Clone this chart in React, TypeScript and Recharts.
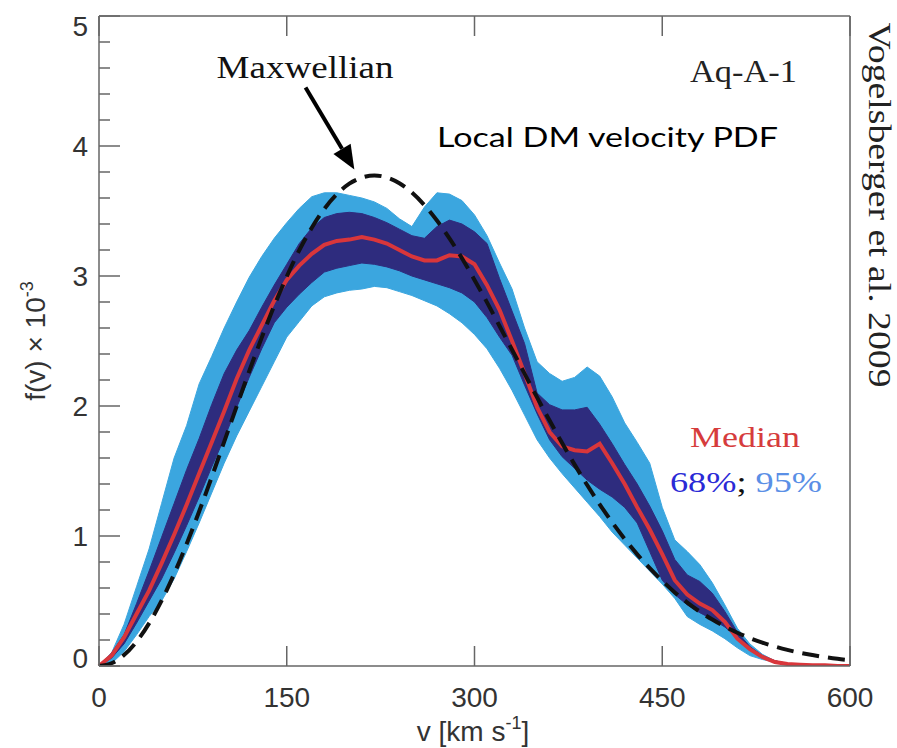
import React from "react";
import { ComposedChart, Area, Line, XAxis, YAxis, ReferenceLine } from "recharts";

// speed grid, km/s
const velocity = [
  0, 10, 20, 30, 40, 50, 60, 70, 80, 90,
  100, 110, 120, 130, 140, 150, 160, 170, 180, 190,
  200, 210, 220, 230, 240, 250, 260, 270, 280, 290,
  300, 310, 320, 330, 340, 350, 360, 370, 380, 390,
  400, 410, 420, 430, 440, 450, 460, 470, 480, 490,
  500, 510, 520, 530, 540, 550, 560, 570, 580, 590, 600,
];

// f(v) x 1e-3
const median = [
  0, 0.08, 0.22, 0.4, 0.58, 0.79, 1.01, 1.24, 1.48, 1.72,
  1.96, 2.21, 2.43, 2.62, 2.81, 2.97, 3.08, 3.17, 3.24, 3.27,
  3.28, 3.3, 3.28, 3.25, 3.2, 3.15, 3.12, 3.12, 3.16, 3.15,
  3.09, 2.93, 2.74, 2.5, 2.25, 1.99, 1.8, 1.69, 1.66, 1.65,
  1.71, 1.56, 1.4, 1.22, 1.05, 0.86, 0.66, 0.55, 0.48, 0.43,
  0.34, 0.21, 0.13, 0.07, 0.03, 0.015, 0.01, 0.005, 0.005, 0, 0,
];

const upper95 = [
  0, 0.1, 0.32, 0.61, 0.9, 1.25, 1.6, 1.85, 2.17, 2.38,
  2.6, 2.8, 2.99, 3.15, 3.29, 3.41, 3.52, 3.61, 3.64, 3.64,
  3.62, 3.6, 3.57, 3.52, 3.44, 3.38, 3.53, 3.64, 3.63, 3.58,
  3.47, 3.31, 3.1, 2.9, 2.6, 2.34, 2.25, 2.19, 2.22, 2.3,
  2.23, 2.07, 1.87, 1.72, 1.56, 1.22, 0.97, 0.88, 0.78, 0.64,
  0.47, 0.29, 0.17, 0.09, 0.04, 0.015, 0.005, 0, 0, 0, 0,
];

const lower95 = [
  0, 0.02, 0.11, 0.24, 0.38, 0.5, 0.67, 0.88, 1.1, 1.33,
  1.56, 1.77, 1.96, 2.15, 2.34, 2.53, 2.65, 2.77, 2.84, 2.87,
  2.89, 2.9, 2.92, 2.91, 2.88, 2.85, 2.81, 2.77, 2.71, 2.64,
  2.55, 2.44, 2.29, 2.12, 1.93, 1.74, 1.6, 1.48, 1.37, 1.26,
  1.15, 1.03, 0.93, 0.83, 0.73, 0.63, 0.52, 0.38, 0.32, 0.27,
  0.21, 0.14, 0.08, 0.05, 0.03, 0.01, 0.005, 0, 0, 0, 0,
];

const upper68 = [
  0, 0.1, 0.24, 0.48, 0.73, 0.99, 1.25, 1.51, 1.75, 2.01,
  2.25, 2.43, 2.58, 2.76, 2.93, 3.09, 3.25, 3.37, 3.45, 3.48,
  3.49, 3.48, 3.45, 3.41, 3.36, 3.31, 3.29, 3.38, 3.43, 3.4,
  3.34, 3.25, 2.98, 2.73, 2.48, 2.1, 2.01, 1.97, 1.97, 1.99,
  1.86, 1.71, 1.55, 1.4, 1.23, 1.04, 0.82, 0.7, 0.65, 0.56,
  0.42, 0.26, 0.15, 0.08, 0.04, 0.02, 0.01, 0, 0, 0, 0,
];

const lower68 = [
  0, 0.06, 0.17, 0.33, 0.5, 0.67, 0.87, 1.08, 1.3, 1.53,
  1.75, 1.99, 2.22, 2.44, 2.64, 2.76, 2.86, 2.95, 3.03, 3.06,
  3.08, 3.1, 3.09, 3.07, 3.04, 3.0, 2.97, 2.94, 2.91, 2.87,
  2.8, 2.68, 2.53, 2.39, 2.16, 1.94, 1.74, 1.61, 1.52, 1.43,
  1.36, 1.3, 1.22, 1.1, 0.88, 0.66, 0.55, 0.47, 0.41, 0.36,
  0.3, 0.22, 0.13, 0.07, 0.04, 0.02, 0.01, 0, 0, 0, 0,
];

const maxwellian = [
  0, 0.021, 0.084, 0.187, 0.328, 0.503, 0.708, 0.939, 1.189, 1.452,
  1.724, 1.997, 2.267, 2.526, 2.771, 2.996, 3.198, 3.371, 3.516, 3.629,
  3.71, 3.757, 3.774, 3.758, 3.714, 3.642, 3.545, 3.427, 3.289, 3.137,
  2.97, 2.797, 2.615, 2.433, 2.249, 2.066, 1.888, 1.715, 1.549, 1.392,
  1.244, 1.105, 0.977, 0.859, 0.752, 0.655, 0.566, 0.488, 0.418, 0.357,
  0.303, 0.256, 0.215, 0.18, 0.15, 0.124, 0.102, 0.084, 0.068, 0.055, 0.045,
];

const xTicks = [0, 150, 300, 450, 600];
const yTicks = [
  0, 0.2, 0.4, 0.6, 0.8, 1, 1.2, 1.4, 1.6, 1.8, 2, 2.2, 2.4, 2.6, 2.8,
  3, 3.2, 3.4, 3.6, 3.8, 4, 4.2, 4.4, 4.6, 4.8, 5,
];

// arrow from "Maxwellian" label to the peak, in data units
const arrowFrom = { v: 165, f: 4.45 };
const arrowTo = { v: 204, f: 3.82 };

const data = velocity.map((v, i) => ({
  v,
  median: median[i],
  band68: [lower68[i], upper68[i]],
  band95: [lower95[i], upper95[i]],
  maxwellian: maxwellian[i],
}));

const FRAME = "#666";
const SANS = '"Liberation Sans", Arial, sans-serif';
const SERIF = '"Liberation Serif", "Times New Roman", serif';

const isMajor = (v: number) => Math.abs(v - Math.round(v)) < 1e-6;

function LeftTick({ x, y, payload }: any) {
  const value = payload.value as number;
  const major = isMajor(value);
  const shift = value === 0 ? -8 : value === 5 ? 10 : 0;
  return (
    <g>
      <line x1={x} y1={y} x2={x + (major ? 21 : 11)} y2={y} stroke={FRAME} strokeWidth={1.5} />
      {major && (
        <text x={x - 11} y={y + shift} dy="0.36em" textAnchor="end" fontFamily={SANS} fontSize={28} fill="#333">
          {value}
        </text>
      )}
    </g>
  );
}

function RightTick({ x, y, payload }: any) {
  const major = isMajor(payload.value);
  return <line x1={x} y1={y} x2={x - (major ? 21 : 11)} y2={y} stroke={FRAME} strokeWidth={1.5} />;
}

function BottomTick({ x, y, payload }: any) {
  return (
    <g>
      <line x1={x} y1={y} x2={x} y2={y - 20} stroke={FRAME} strokeWidth={1.5} />
      <text x={x} y={y + 41} textAnchor="middle" fontFamily={SANS} fontSize={28} fill="#333">
        {payload.value}
      </text>
    </g>
  );
}

function TopTick({ x, y }: any) {
  return <line x1={x} y1={y} x2={x} y2={y + 20} stroke={FRAME} strokeWidth={1.5} />;
}

function ArrowShape(props: any) {
  const { x1, y1, x2, y2 } = props;
  const ang = Math.atan2(y2 - y1, x2 - x1);
  const len = 24;
  const half = 10;
  const bx = x2 - len * Math.cos(ang);
  const by = y2 - len * Math.sin(ang);
  const nx = -Math.sin(ang) * half;
  const ny = Math.cos(ang) * half;
  return (
    <g>
      <line x1={x1} y1={y1} x2={bx} y2={by} stroke="#000" strokeWidth={4} />
      <polygon points={`${x2},${y2} ${bx + nx},${by + ny} ${bx - nx},${by - ny}`} fill="#000" />
    </g>
  );
}

export default function App() {
  return (
    <div style={{ position: "absolute", left: 0, top: 0, width: 897, height: 748, background: "#fff" }}>
      <ComposedChart width={897} height={748} data={data} margin={{ top: 0, right: 0, bottom: 0, left: 0 }}>
        <XAxis
          dataKey="v"
          type="number"
          domain={[0, 600]}
          ticks={xTicks}
          interval={0}
          height={82}
          tickSize={0}
          tickMargin={0}
          tick={<BottomTick />}
          axisLine={{ stroke: FRAME, strokeWidth: 1.5 }}
        />
        <XAxis
          xAxisId="top"
          orientation="top"
          dataKey="v"
          type="number"
          domain={[0, 600]}
          ticks={xTicks}
          interval={0}
          height={16}
          tickSize={0}
          tickMargin={0}
          tick={<TopTick />}
          axisLine={{ stroke: FRAME, strokeWidth: 1.5 }}
        />
        <YAxis
          type="number"
          domain={[0, 5]}
          ticks={yTicks}
          interval={0}
          width={99}
          tickSize={0}
          tickMargin={0}
          tick={<LeftTick />}
          axisLine={{ stroke: FRAME, strokeWidth: 1.5 }}
          allowDataOverflow
        />
        <YAxis
          yAxisId="right"
          orientation="right"
          type="number"
          domain={[0, 5]}
          ticks={yTicks}
          interval={0}
          width={47}
          tickSize={0}
          tickMargin={0}
          tick={<RightTick />}
          axisLine={{ stroke: FRAME, strokeWidth: 1.5 }}
        />
        <Area
          type="linear"
          dataKey="band95"
          stroke="#3ba6df"
          strokeWidth={1}
          fill="#3ba6df"
          fillOpacity={1}
          activeDot={false}
          isAnimationActive={false}
        />
        <Area
          type="linear"
          dataKey="band68"
          stroke="#2e2c7e"
          strokeWidth={1}
          fill="#2e2c7e"
          fillOpacity={1}
          activeDot={false}
          isAnimationActive={false}
        />
        <Line
          type="linear"
          dataKey="median"
          stroke="#d9363b"
          strokeWidth={4}
          dot={false}
          activeDot={false}
          isAnimationActive={false}
        />
        <Line
          type="monotone"
          dataKey="maxwellian"
          stroke="#111"
          strokeWidth={4}
          strokeDasharray="17 9"
          dot={false}
          activeDot={false}
          isAnimationActive={false}
        />
        <ReferenceLine
          segment={[
            { x: arrowFrom.v, y: arrowFrom.f },
            { x: arrowTo.v, y: arrowTo.f },
          ]}
          shape={ArrowShape}
        />
      </ComposedChart>
      <svg
        width={897}
        height={748}
        style={{ position: "absolute", left: 0, top: 0, pointerEvents: "none" }}
      >
        <text x={305} y={78} textAnchor="middle" fontFamily={SERIF} fontSize={32} textLength={177} lengthAdjust="spacingAndGlyphs" fill="#111">
          Maxwellian
        </text>
        <text x={690} y={82} fontFamily={SERIF} fontSize={31} textLength={107} lengthAdjust="spacingAndGlyphs" fill="#222">
          Aq-A-1
        </text>
        <text x={437} y={147} fontFamily="Lato, 'Open Sans', sans-serif" fontSize={26} textLength={341} lengthAdjust="spacingAndGlyphs" fill="#000">
          Local DM velocity PDF
        </text>
        <text x={690} y={447} fontFamily={SERIF} fontSize={30} textLength={110} lengthAdjust="spacingAndGlyphs" fill="#d63c3c">
          Median
        </text>
        <text x={670} y={492} fontFamily={SERIF} fontSize={30} textLength={152} lengthAdjust="spacingAndGlyphs">
          <tspan fill="#2a2ad6">68%</tspan>
          <tspan fill="#111">; </tspan>
          <tspan fill="#5a8fe6">95%</tspan>
        </text>
        <text
          transform="translate(869 205) rotate(90)"
          textAnchor="middle"
          fontFamily={SERIF}
          fontSize={32}
          textLength={365}
          lengthAdjust="spacingAndGlyphs"
          fill="#222"
        >
          Vogelsberger et al. 2009
        </text>
        <text transform="translate(45 341) rotate(-90)" textAnchor="middle" fontFamily={SANS} fontSize={28} fill="#333">
          f(v) × 10
          <tspan fontSize={18} dy={-12}>-3</tspan>
        </text>
        <text x={473} y={741} textAnchor="middle" fontFamily={SANS} fontSize={28} fill="#333">
          v [km s
          <tspan fontSize={18} dy={-12}>-1</tspan>
          <tspan dy={12}>]</tspan>
        </text>
      </svg>
    </div>
  );
}
